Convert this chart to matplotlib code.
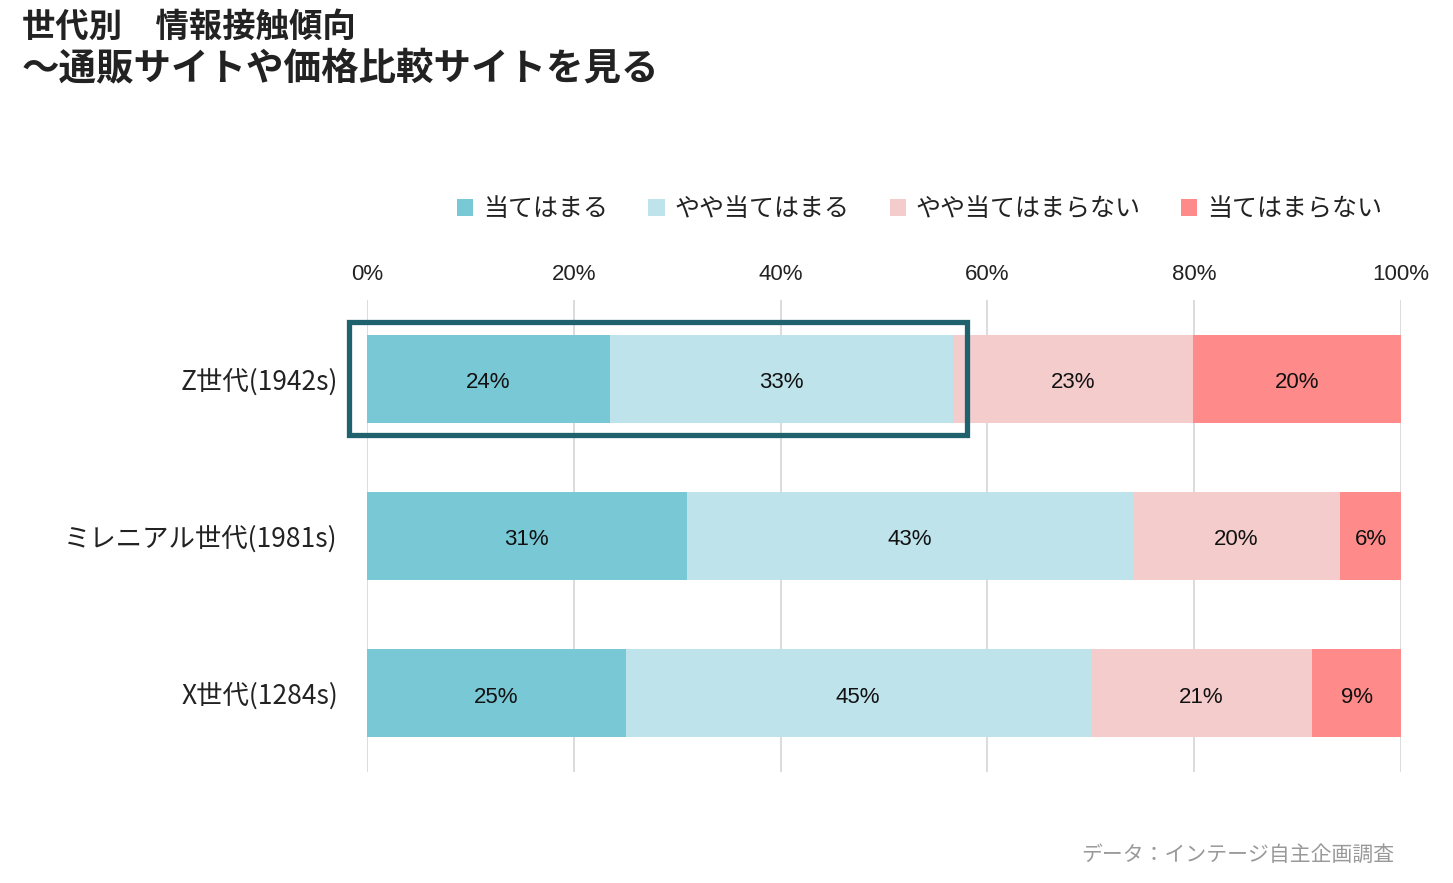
import matplotlib.pyplot as plt
from matplotlib.patches import Patch, Rectangle

plt.rcParams['font.family'] = ['Noto Sans CJK JP', 'DejaVu Sans']

# data (percent)
generations = ['Z世代(1942s)', 'ミレニアル世代(1981s)', 'X世代(1284s)']
series_names = ['当てはまる', 'やや当てはまる', 'やや当てはまらない', '当てはまらない']
atehamaru = [23.5, 30.9, 25.0]
yaya_atehamaru = [33.2, 43.2, 45.0]
yaya_atehamaranai = [23.2, 20.0, 21.4]
atehamaranai = [20.1, 5.9, 8.6]
ticks = [0, 20, 40, 60, 80, 100]

colors = ['#78C8D6', '#BEE3EB', '#F4CCCC', '#FF8A8A']
series = [atehamaru, yaya_atehamaru, yaya_atehamaranai, atehamaranai]

fig = plt.figure(figsize=(14.53, 8.83), dpi=100)
ax = fig.add_axes([367/1453, 1-772/883, (1401-367)/1453, (772-300)/883])

ypos = list(range(len(generations)))
left = [0] * len(generations)
for vals, col in zip(series, colors):
    ax.barh(ypos, vals, left=left, height=0.56, color=col, zorder=2)
    for y, l, v in zip(ypos, left, vals):
        ax.text(l + v/2, y + 0.025, f'{round(v)}%', ha='center', va='center',
                fontsize=16, color='#111111', family=['Liberation Sans', 'DejaVu Sans'], zorder=3)
    left = [a + b for a, b in zip(left, vals)]

# highlight box round first two segments of Z generation
ax.add_patch(Rectangle((-1.7, -0.36), 59.7, 0.72, fill=False, edgecolor='#1F626D',
                       linewidth=3.8, clip_on=False, zorder=4))

ax.set_xlim(0, 100)
ax.set_ylim(2.5, -0.5)
ax.set_xticks(ticks)
ax.set_xticklabels([f'{t}%' for t in ticks], family=['Liberation Sans', 'DejaVu Sans'])
ax.xaxis.tick_top()
ax.tick_params(axis='x', length=0, pad=11, labelsize=16, colors='#222222')
ax.set_yticks(ypos)
ax.set_yticklabels(generations)
ax.tick_params(axis='y', length=0, pad=21, labelsize=19, colors='#222222')
ax.grid(axis='x', color='#D9D9D9', linewidth=1.3, zorder=0)
ax.set_axisbelow(True)
for s in ax.spines.values():
    s.set_visible(False)

handles = [Patch(facecolor=c, edgecolor='none') for c in colors]
fig.legend(handles, series_names, ncol=4, loc='lower right',
           bbox_to_anchor=(1392/1453, 1-232/883), frameon=False, fontsize=18,
           handlelength=0.65, handleheight=0.65, handletextpad=0.4, columnspacing=1.6,
           labelcolor='#222222', borderaxespad=0)

fig.text(22/1453, 1-27/883, '世代別　情報接触傾向', fontsize=24, fontweight='bold',
         va='center', ha='left', color='#222222')
fig.text(22/1453, 1-68/883, '～通販サイトや価格比較サイトを見る', fontsize=27, fontweight='bold',
         va='center', ha='left', color='#222222')
fig.text(1394/1453, 1-855/883, 'データ：インテージ自主企画調査', fontsize=15, color='#999999',
         va='center', ha='right')

fig.savefig('out.png', dpi=100)
